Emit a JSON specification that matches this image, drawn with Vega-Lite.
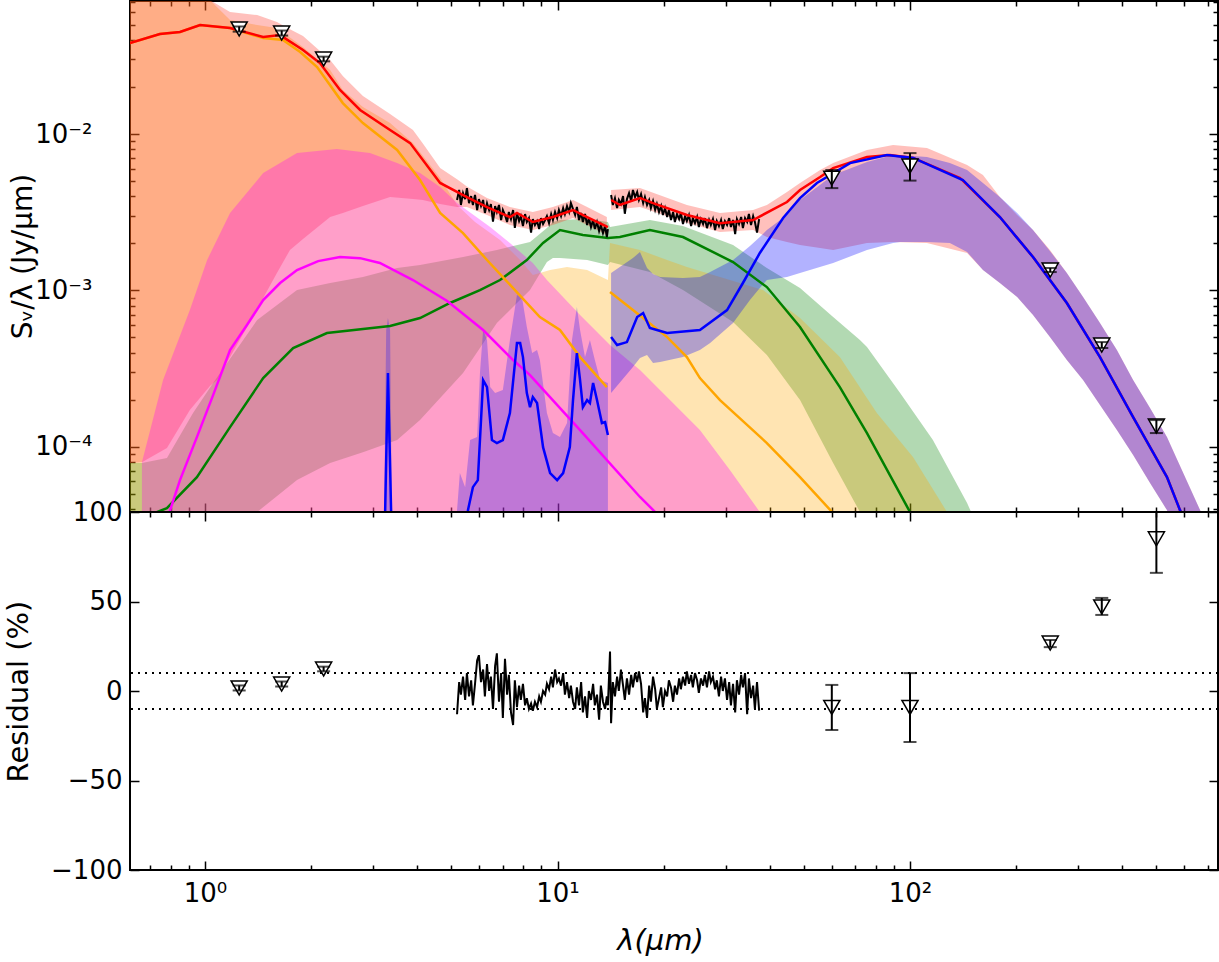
{
"$schema": "https://vega.github.io/schema/vega-lite/v6.json",
"autosize": {"type": "none"},
"padding": {"left": 130, "top": 1, "right": 1089, "bottom": 961},
"background": "white",
"spacing": 0,
"bounds": "flush",
"config": {
 "view": {"stroke": "black", "strokeWidth": 2},
 "axis": {"grid": false, "domain": false, "tickColor": "black", "tickWidth": 1.5, "labelFont": "DejaVu Sans", "labelFontSize": 26, "labelColor": "black", "titleFont": "DejaVu Sans", "titleFontSize": 29, "titleFontWeight": "normal", "titleColor": "black", "labelOverlap": false, "labelFlush": false}
},
"datasets": {
 "green_band": [
  {"log_lam":-0.213,"log_flux":-4.105,"lo":-5},{"log_lam":-0.179,"log_flux":-4.105,"lo":-5},{"log_lam":-0.108,"log_flux":-4.073,"lo":-5},{"log_lam":-0.034,"log_flux":-3.785,"lo":-5},{"log_lam":0.023,"log_flux":-3.593,"lo":-5},{"log_lam":0.148,"log_flux":-3.19,"lo":-4.418},{"log_lam":0.261,"log_flux":-2.998,"lo":-4.214},{"log_lam":0.355,"log_flux":-2.953,"lo":-4.105},{"log_lam":0.448,"log_flux":-2.915,"lo":-4.035},{"log_lam":0.545,"log_flux":-2.857,"lo":-3.958},{"log_lam":0.61,"log_flux":-2.838,"lo":-3.83},{"log_lam":0.732,"log_flux":-2.787,"lo":-3.529},{"log_lam":0.828,"log_flux":-2.742,"lo":-3.209},{"log_lam":0.922,"log_flux":-2.691,"lo":-2.998},{"log_lam":0.97,"log_flux":-2.601,"lo":-2.819},{"log_lam":0.987,"log_flux":-2.563,"lo":-2.793},{"log_lam":1.007,"log_flux":-2.55,"lo":-2.793},{"log_lam":1.084,"log_flux":-2.544,"lo":-2.806},{"log_lam":1.143,"log_flux":-2.563,"lo":-2.838},{"log_lam":1.149,"log_flux":-2.595,"lo":-2.819},{"log_lam":1.262,"log_flux":-2.55,"lo":-2.883},{"log_lam":1.356,"log_flux":-2.589,"lo":-2.998},{"log_lam":1.498,"log_flux":-2.71,"lo":-3.203},{"log_lam":1.594,"log_flux":-2.857,"lo":-3.414},{"log_lam":1.688,"log_flux":-2.985,"lo":-3.702},{"log_lam":1.782,"log_flux":-3.171,"lo":-4.105},{"log_lam":1.858,"log_flux":-3.318,"lo":-4.418},{"log_lam":1.878,"log_flux":-3.363,"lo":-4.534},{"log_lam":1.972,"log_flux":-3.657,"lo":-5},{"log_lam":2.065,"log_flux":-3.958,"lo":-5},{"log_lam":2.162,"log_flux":-4.361,"lo":-5},{"log_lam":2.176,"log_flux":-4.431,"lo":-5}
 ],
 "orange_band": [
  {"log_lam":-0.213,"log_flux":-0.823},{"log_lam":0.014,"log_flux":-1.143},{"log_lam":0.071,"log_flux":-1.271},{"log_lam":0.148,"log_flux":-1.303},{"log_lam":0.204,"log_flux":-1.322},{"log_lam":0.278,"log_flux":-1.443},{"log_lam":0.355,"log_flux":-1.591},{"log_lam":0.391,"log_flux":-1.718},{"log_lam":0.448,"log_flux":-1.827},{"log_lam":0.525,"log_flux":-1.93},{"log_lam":0.59,"log_flux":-2.058},{"log_lam":0.667,"log_flux":-2.282},{"log_lam":0.715,"log_flux":-2.454},{"log_lam":0.766,"log_flux":-2.563},{"log_lam":0.837,"log_flux":-2.678},{"log_lam":0.894,"log_flux":-2.806},{"log_lam":0.93,"log_flux":-2.902},{"log_lam":0.979,"log_flux":-2.87},{"log_lam":1.027,"log_flux":-2.851},{"log_lam":1.084,"log_flux":-2.87},{"log_lam":1.143,"log_flux":-2.934},{"log_lam":1.149,"log_flux":-2.697},{"log_lam":1.234,"log_flux":-2.742},{"log_lam":1.311,"log_flux":-2.806},{"log_lam":1.367,"log_flux":-2.851},{"log_lam":1.461,"log_flux":-2.915},{"log_lam":1.583,"log_flux":-2.998},{"log_lam":1.688,"log_flux":-3.177},{"log_lam":1.801,"log_flux":-3.427},{"log_lam":1.906,"log_flux":-3.785},{"log_lam":2.009,"log_flux":-4.067},{"log_lam":2.105,"log_flux":-4.418},{"log_lam":2.113,"log_flux":-4.47}
 ],
 "red_band": [
  {"seg":"a","log_lam":-0.213,"log_flux":-0.823,"lo":-4.105},{"seg":"a","log_lam":-0.179,"log_flux":-0.874,"lo":-4.099},{"seg":"a","log_lam":-0.108,"log_flux":-0.97,"lo":-4.009},{"seg":"a","log_lam":-0.043,"log_flux":-1.085,"lo":-3.766},{"seg":"a","log_lam":0.014,"log_flux":-1.143,"lo":-3.612},{"seg":"a","log_lam":0.034,"log_flux":-1.17,"lo":-3.574},{"seg":"a","log_lam":0.071,"log_flux":-1.22,"lo":-3.427},{"seg":"a","log_lam":0.148,"log_flux":-1.239,"lo":-3.12},{"seg":"a","log_lam":0.204,"log_flux":-1.284,"lo":-2.889},{"seg":"a","log_lam":0.241,"log_flux":-1.33,"lo":-2.742},{"seg":"a","log_lam":0.278,"log_flux":-1.373,"lo":-2.672},{"seg":"a","log_lam":0.355,"log_flux":-1.527,"lo":-2.531},{"seg":"a","log_lam":0.391,"log_flux":-1.629,"lo":-2.505},{"seg":"a","log_lam":0.448,"log_flux":-1.757,"lo":-2.461},{"seg":"a","log_lam":0.525,"log_flux":-1.872,"lo":-2.403},{"seg":"a","log_lam":0.59,"log_flux":-1.974,"lo":-2.416},{"seg":"a","log_lam":0.618,"log_flux":-2.06,"lo":-2.422},{"seg":"a","log_lam":0.667,"log_flux":-2.217,"lo":-2.448},{"seg":"a","log_lam":0.715,"log_flux":-2.29,"lo":-2.467},{"seg":"a","log_lam":0.743,"log_flux":-2.335,"lo":-2.467},{"seg":"a","log_lam":0.8,"log_flux":-2.409,"lo":-2.518},{"seg":"a","log_lam":0.865,"log_flux":-2.467,"lo":-2.582},{"seg":"a","log_lam":0.93,"log_flux":-2.499,"lo":-2.614},{"seg":"a","log_lam":0.987,"log_flux":-2.467,"lo":-2.582},{"seg":"a","log_lam":1.044,"log_flux":-2.422,"lo":-2.537},{"seg":"a","log_lam":1.084,"log_flux":-2.467,"lo":-2.582},{"seg":"a","log_lam":1.14,"log_flux":-2.531,"lo":-2.646},
  {"seg":"b","log_lam":1.152,"log_flux":-2.358,"lo":-2.486},{"seg":"b","log_lam":1.234,"log_flux":-2.345,"lo":-2.467},{"seg":"b","log_lam":1.367,"log_flux":-2.454,"lo":-2.569},{"seg":"b","log_lam":1.461,"log_flux":-2.505,"lo":-2.627},{"seg":"b","log_lam":1.555,"log_flux":-2.486,"lo":-2.614},{"seg":"b","log_lam":1.594,"log_flux":-2.454,"lo":-2.659},{"seg":"b","log_lam":1.651,"log_flux":-2.371,"lo":-2.691},{"seg":"b","log_lam":1.688,"log_flux":-2.313,"lo":-2.71},{"seg":"b","log_lam":1.745,"log_flux":-2.23,"lo":-2.729},{"seg":"b","log_lam":1.782,"log_flux":-2.186,"lo":-2.742},{"seg":"b","log_lam":1.878,"log_flux":-2.102,"lo":-2.697},{"seg":"b","log_lam":1.952,"log_flux":-2.07,"lo":-2.691},{"seg":"b","log_lam":2.048,"log_flux":-2.09,"lo":-2.697},{"seg":"b","log_lam":2.162,"log_flux":-2.198,"lo":-2.761},{"seg":"b","log_lam":2.207,"log_flux":-2.262,"lo":-2.87},{"seg":"b","log_lam":2.255,"log_flux":-2.403,"lo":-2.953},{"seg":"b","log_lam":2.304,"log_flux":-2.518,"lo":-3.043},{"seg":"b","log_lam":2.349,"log_flux":-2.614,"lo":-3.158},{"seg":"b","log_lam":2.397,"log_flux":-2.742,"lo":-3.299},{"seg":"b","log_lam":2.445,"log_flux":-2.889,"lo":-3.446},{"seg":"b","log_lam":2.491,"log_flux":-3.043,"lo":-3.574},{"seg":"b","log_lam":2.539,"log_flux":-3.209,"lo":-3.734},{"seg":"b","log_lam":2.587,"log_flux":-3.382,"lo":-3.894},{"seg":"b","log_lam":2.633,"log_flux":-3.574,"lo":-4.054},{"seg":"b","log_lam":2.681,"log_flux":-3.753,"lo":-4.233},{"seg":"b","log_lam":2.729,"log_flux":-3.939,"lo":-4.406},{"seg":"b","log_lam":2.752,"log_flux":-4.054,"lo":-4.534},{"seg":"b","log_lam":2.823,"log_flux":-4.406,"lo":-4.981},{"seg":"b","log_lam":2.837,"log_flux":-4.47,"lo":-5.045}
 ],
 "magenta_band": [
  {"log_lam":-0.179,"log_flux":-4.099},{"log_lam":-0.119,"log_flux":-3.574},{"log_lam":-0.043,"log_flux":-3.126},{"log_lam":0.006,"log_flux":-2.806},{"log_lam":0.071,"log_flux":-2.505},{"log_lam":0.165,"log_flux":-2.25},{"log_lam":0.261,"log_flux":-2.122},{"log_lam":0.374,"log_flux":-2.096},{"log_lam":0.468,"log_flux":-2.122},{"log_lam":0.545,"log_flux":-2.186},{"log_lam":0.61,"log_flux":-2.25},{"log_lam":0.667,"log_flux":-2.339},{"log_lam":0.715,"log_flux":-2.441},{"log_lam":0.809,"log_flux":-2.595},{"log_lam":0.865,"log_flux":-2.697},{"log_lam":0.93,"log_flux":-2.825},{"log_lam":0.97,"log_flux":-2.934},{"log_lam":1.064,"log_flux":-3.158},{"log_lam":1.149,"log_flux":-3.35},{"log_lam":1.234,"log_flux":-3.51},{"log_lam":1.404,"log_flux":-3.894},{"log_lam":1.489,"log_flux":-4.15},{"log_lam":1.574,"log_flux":-4.418},{"log_lam":1.589,"log_flux":-4.47}
 ],
 "pah_band": [
  {"log_lam":0.505,"log_flux":-5},{"log_lam":0.514,"log_flux":-3.254},{"log_lam":0.519,"log_flux":-3.177},{"log_lam":0.525,"log_flux":-3.254},{"log_lam":0.533,"log_flux":-5},{"log_lam":0.706,"log_flux":-5},{"log_lam":0.715,"log_flux":-4.406},{"log_lam":0.723,"log_flux":-4.169},{"log_lam":0.738,"log_flux":-4.259},{"log_lam":0.752,"log_flux":-3.958},{"log_lam":0.772,"log_flux":-3.939},{"log_lam":0.78,"log_flux":-3.529},{"log_lam":0.789,"log_flux":-3.254},{"log_lam":0.8,"log_flux":-3.318},{"log_lam":0.809,"log_flux":-3.619},{"log_lam":0.823,"log_flux":-3.657},{"log_lam":0.845,"log_flux":-3.638},{"log_lam":0.865,"log_flux":-3.318},{"log_lam":0.885,"log_flux":-3.03},{"log_lam":0.899,"log_flux":-3.043},{"log_lam":0.913,"log_flux":-3.235},{"log_lam":0.928,"log_flux":-3.401},{"log_lam":0.942,"log_flux":-3.382},{"log_lam":0.95,"log_flux":-3.446},{"log_lam":0.97,"log_flux":-3.785},{"log_lam":0.987,"log_flux":-3.913},{"log_lam":1.007,"log_flux":-3.939},{"log_lam":1.027,"log_flux":-3.849},{"log_lam":1.041,"log_flux":-3.318},{"log_lam":1.055,"log_flux":-3.107},{"log_lam":1.064,"log_flux":-3.254},{"log_lam":1.078,"log_flux":-3.427},{"log_lam":1.092,"log_flux":-3.318},{"log_lam":1.106,"log_flux":-3.446},{"log_lam":1.121,"log_flux":-3.574},{"log_lam":1.143,"log_flux":-3.593}
 ],
 "cold_band": [
  {"log_lam":1.152,"log_flux":-2.889,"lo":-3.657},{"log_lam":1.214,"log_flux":-2.793,"lo":-3.491},{"log_lam":1.234,"log_flux":-2.755,"lo":-3.433},{"log_lam":1.254,"log_flux":-2.857,"lo":-3.414},{"log_lam":1.271,"log_flux":-2.896,"lo":-3.465},{"log_lam":1.291,"log_flux":-2.915,"lo":-3.459},{"log_lam":1.356,"log_flux":-2.921,"lo":-3.427},{"log_lam":1.404,"log_flux":-2.915,"lo":-3.382},{"log_lam":1.433,"log_flux":-2.883,"lo":-3.337},{"log_lam":1.498,"log_flux":-2.806,"lo":-3.209},{"log_lam":1.546,"log_flux":-2.717,"lo":-3.062},{"log_lam":1.574,"log_flux":-2.659,"lo":-2.985},{"log_lam":1.594,"log_flux":-2.614,"lo":-2.934},{"log_lam":1.651,"log_flux":-2.518,"lo":-2.915},{"log_lam":1.688,"log_flux":-2.422,"lo":-2.889},{"log_lam":1.782,"log_flux":-2.262,"lo":-2.825},{"log_lam":1.878,"log_flux":-2.179,"lo":-2.742},{"log_lam":1.952,"log_flux":-2.134,"lo":-2.697},{"log_lam":1.972,"log_flux":-2.134,"lo":-2.691},{"log_lam":2.048,"log_flux":-2.147,"lo":-2.691},{"log_lam":2.113,"log_flux":-2.186,"lo":-2.697},{"log_lam":2.162,"log_flux":-2.23,"lo":-2.755},{"log_lam":2.207,"log_flux":-2.313,"lo":-2.87},{"log_lam":2.255,"log_flux":-2.403,"lo":-2.953},{"log_lam":2.304,"log_flux":-2.505,"lo":-3.043},{"log_lam":2.349,"log_flux":-2.614,"lo":-3.158},{"log_lam":2.397,"log_flux":-2.748,"lo":-3.299},{"log_lam":2.445,"log_flux":-2.889,"lo":-3.446},{"log_lam":2.491,"log_flux":-3.043,"lo":-3.574},{"log_lam":2.539,"log_flux":-3.209,"lo":-3.734},{"log_lam":2.587,"log_flux":-3.382,"lo":-3.894},{"log_lam":2.633,"log_flux":-3.574,"lo":-4.054},{"log_lam":2.681,"log_flux":-3.753,"lo":-4.233},{"log_lam":2.729,"log_flux":-3.939,"lo":-4.406},{"log_lam":2.752,"log_flux":-4.054,"lo":-4.534},{"log_lam":2.823,"log_flux":-4.406,"lo":-4.981},{"log_lam":2.837,"log_flux":-4.47,"lo":-5.045}
 ],
 "green_line": [
  {"log_lam":-0.184,"log_flux":-4.534},{"log_lam":-0.136,"log_flux":-4.418},{"log_lam":-0.108,"log_flux":-4.393},{"log_lam":-0.023,"log_flux":-4.195},{"log_lam":0.071,"log_flux":-3.875},{"log_lam":0.165,"log_flux":-3.561},{"log_lam":0.25,"log_flux":-3.369},{"log_lam":0.346,"log_flux":-3.273},{"log_lam":0.525,"log_flux":-3.228},{"log_lam":0.61,"log_flux":-3.177},{"log_lam":0.695,"log_flux":-3.081},{"log_lam":0.78,"log_flux":-2.998},{"log_lam":0.837,"log_flux":-2.934},{"log_lam":0.913,"log_flux":-2.806},{"log_lam":0.959,"log_flux":-2.697},{"log_lam":1.007,"log_flux":-2.614},{"log_lam":1.072,"log_flux":-2.646},{"log_lam":1.143,"log_flux":-2.665},{"log_lam":1.177,"log_flux":-2.659},{"log_lam":1.262,"log_flux":-2.614},{"log_lam":1.356,"log_flux":-2.659},{"log_lam":1.498,"log_flux":-2.819},{"log_lam":1.594,"log_flux":-2.979},{"log_lam":1.688,"log_flux":-3.235},{"log_lam":1.801,"log_flux":-3.619},{"log_lam":1.878,"log_flux":-3.913},{"log_lam":2.0,"log_flux":-4.418},{"log_lam":2.014,"log_flux":-4.47}
 ],
 "magenta_line": [
  {"log_lam":-0.113,"log_flux":-4.598},{"log_lam":-0.099,"log_flux":-4.406},{"log_lam":-0.071,"log_flux":-4.214},{"log_lam":-0.023,"log_flux":-3.939},{"log_lam":0.023,"log_flux":-3.67},{"log_lam":0.071,"log_flux":-3.382},{"log_lam":0.119,"log_flux":-3.222},{"log_lam":0.165,"log_flux":-3.062},{"log_lam":0.213,"log_flux":-2.953},{"log_lam":0.261,"log_flux":-2.87},{"log_lam":0.321,"log_flux":-2.813},{"log_lam":0.383,"log_flux":-2.787},{"log_lam":0.44,"log_flux":-2.794},{"log_lam":0.496,"log_flux":-2.825},{"log_lam":0.59,"log_flux":-2.934},{"log_lam":0.687,"log_flux":-3.068},{"log_lam":0.789,"log_flux":-3.254},{"log_lam":0.874,"log_flux":-3.446},{"log_lam":0.922,"log_flux":-3.542},{"log_lam":1.064,"log_flux":-3.894},{"log_lam":1.234,"log_flux":-4.322},{"log_lam":1.277,"log_flux":-4.418},{"log_lam":1.291,"log_flux":-4.47}
 ],
 "orange_line": [
  {"seg":"a","log_lam":-0.213,"log_flux":-1.418},{"seg":"a","log_lam":-0.128,"log_flux":-1.36},{"seg":"a","log_lam":-0.071,"log_flux":-1.347},{"seg":"a","log_lam":-0.014,"log_flux":-1.303},{"seg":"a","log_lam":0.071,"log_flux":-1.322},{"seg":"a","log_lam":0.165,"log_flux":-1.386},{"seg":"a","log_lam":0.221,"log_flux":-1.399},{"seg":"a","log_lam":0.27,"log_flux":-1.475},{"seg":"a","log_lam":0.318,"log_flux":-1.571},{"seg":"a","log_lam":0.391,"log_flux":-1.802},{"seg":"a","log_lam":0.448,"log_flux":-1.93},{"seg":"a","log_lam":0.545,"log_flux":-2.102},{"seg":"a","log_lam":0.61,"log_flux":-2.294},{"seg":"a","log_lam":0.667,"log_flux":-2.505},{"seg":"a","log_lam":0.732,"log_flux":-2.634},{"seg":"a","log_lam":0.8,"log_flux":-2.806},{"seg":"a","log_lam":0.845,"log_flux":-2.915},{"seg":"a","log_lam":0.95,"log_flux":-3.171},{"seg":"a","log_lam":1.007,"log_flux":-3.254},{"seg":"a","log_lam":1.064,"log_flux":-3.427},{"seg":"a","log_lam":1.14,"log_flux":-3.619},
  {"seg":"b","log_lam":1.149,"log_flux":-3.011},{"seg":"b","log_lam":1.214,"log_flux":-3.126},{"seg":"b","log_lam":1.311,"log_flux":-3.299},{"seg":"b","log_lam":1.367,"log_flux":-3.427},{"seg":"b","log_lam":1.404,"log_flux":-3.561},{"seg":"b","log_lam":1.461,"log_flux":-3.702},{"seg":"b","log_lam":1.594,"log_flux":-3.977},{"seg":"b","log_lam":1.688,"log_flux":-4.195},{"seg":"b","log_lam":1.779,"log_flux":-4.418},{"seg":"b","log_lam":1.801,"log_flux":-4.47}
 ],
 "red_line": [
  {"seg":"a","log_lam":-0.213,"log_flux":-1.418},{"seg":"a","log_lam":-0.128,"log_flux":-1.36},{"seg":"a","log_lam":-0.071,"log_flux":-1.347},{"seg":"a","log_lam":-0.014,"log_flux":-1.303},{"seg":"a","log_lam":0.071,"log_flux":-1.322},{"seg":"a","log_lam":0.165,"log_flux":-1.379},{"seg":"a","log_lam":0.213,"log_flux":-1.367},{"seg":"a","log_lam":0.278,"log_flux":-1.462},{"seg":"a","log_lam":0.326,"log_flux":-1.546},{"seg":"a","log_lam":0.383,"log_flux":-1.718},{"seg":"a","log_lam":0.44,"log_flux":-1.846},{"seg":"a","log_lam":0.525,"log_flux":-1.974},{"seg":"a","log_lam":0.582,"log_flux":-2.058},{"seg":"a","log_lam":0.667,"log_flux":-2.313},{"seg":"a","log_lam":0.743,"log_flux":-2.403},{"seg":"a","log_lam":0.8,"log_flux":-2.467},{"seg":"a","log_lam":0.865,"log_flux":-2.531},{"seg":"a","log_lam":0.885,"log_flux":-2.505},{"seg":"a","log_lam":0.93,"log_flux":-2.563},{"seg":"a","log_lam":0.987,"log_flux":-2.531},{"seg":"a","log_lam":1.044,"log_flux":-2.486},{"seg":"a","log_lam":1.084,"log_flux":-2.531},{"seg":"a","log_lam":1.143,"log_flux":-2.595},
  {"seg":"b","log_lam":1.152,"log_flux":-2.422},{"seg":"b","log_lam":1.177,"log_flux":-2.454},{"seg":"b","log_lam":1.234,"log_flux":-2.409},{"seg":"b","log_lam":1.271,"log_flux":-2.442},{"seg":"b","log_lam":1.367,"log_flux":-2.518},{"seg":"b","log_lam":1.461,"log_flux":-2.57},{"seg":"b","log_lam":1.555,"log_flux":-2.55},{"seg":"b","log_lam":1.651,"log_flux":-2.435},{"seg":"b","log_lam":1.688,"log_flux":-2.358},{"seg":"b","log_lam":1.745,"log_flux":-2.275},{"seg":"b","log_lam":1.782,"log_flux":-2.218},{"seg":"b","log_lam":1.878,"log_flux":-2.147},{"seg":"b","log_lam":1.943,"log_flux":-2.134},{"seg":"b","log_lam":2.009,"log_flux":-2.153},{"seg":"b","log_lam":2.142,"log_flux":-2.281},{"seg":"b","log_lam":2.255,"log_flux":-2.531},{"seg":"b","log_lam":2.349,"log_flux":-2.787},{"seg":"b","log_lam":2.445,"log_flux":-3.081},{"seg":"b","log_lam":2.539,"log_flux":-3.427},{"seg":"b","log_lam":2.633,"log_flux":-3.811},{"seg":"b","log_lam":2.729,"log_flux":-4.195},{"seg":"b","log_lam":2.766,"log_flux":-4.406},{"seg":"b","log_lam":2.794,"log_flux":-4.534}
 ],
 "blue_line": [
  {"seg":"a","log_lam":0.505,"log_flux":-4.726},{"seg":"a","log_lam":0.511,"log_flux":-4.418},{"seg":"a","log_lam":0.519,"log_flux":-3.529},{"seg":"a","log_lam":0.528,"log_flux":-4.418},{"seg":"a","log_lam":0.533,"log_flux":-4.726},{"seg":"a","log_lam":0.738,"log_flux":-4.726},{"seg":"a","log_lam":0.746,"log_flux":-4.406},{"seg":"a","log_lam":0.76,"log_flux":-4.259},{"seg":"a","log_lam":0.774,"log_flux":-4.214},{"seg":"a","log_lam":0.789,"log_flux":-3.574},{"seg":"a","log_lam":0.8,"log_flux":-3.619},{"seg":"a","log_lam":0.814,"log_flux":-3.958},{"seg":"a","log_lam":0.828,"log_flux":-3.977},{"seg":"a","log_lam":0.845,"log_flux":-3.958},{"seg":"a","log_lam":0.865,"log_flux":-3.785},{"seg":"a","log_lam":0.885,"log_flux":-3.337},{"seg":"a","log_lam":0.894,"log_flux":-3.337},{"seg":"a","log_lam":0.902,"log_flux":-3.427},{"seg":"a","log_lam":0.913,"log_flux":-3.657},{"seg":"a","log_lam":0.922,"log_flux":-3.747},{"seg":"a","log_lam":0.93,"log_flux":-3.683},{"seg":"a","log_lam":0.942,"log_flux":-3.721},{"seg":"a","log_lam":0.959,"log_flux":-4.003},{"seg":"a","log_lam":0.979,"log_flux":-4.169},{"seg":"a","log_lam":0.999,"log_flux":-4.214},{"seg":"a","log_lam":1.016,"log_flux":-4.169},{"seg":"a","log_lam":1.035,"log_flux":-4.003},{"seg":"a","log_lam":1.044,"log_flux":-3.702},{"seg":"a","log_lam":1.055,"log_flux":-3.401},{"seg":"a","log_lam":1.064,"log_flux":-3.574},{"seg":"a","log_lam":1.072,"log_flux":-3.747},{"seg":"a","log_lam":1.084,"log_flux":-3.702},{"seg":"a","log_lam":1.092,"log_flux":-3.721},{"seg":"a","log_lam":1.101,"log_flux":-3.593},{"seg":"a","log_lam":1.112,"log_flux":-3.702},{"seg":"a","log_lam":1.126,"log_flux":-3.849},{"seg":"a","log_lam":1.135,"log_flux":-3.843},{"seg":"a","log_lam":1.143,"log_flux":-3.926},
  {"seg":"b","log_lam":1.152,"log_flux":-3.299},{"seg":"b","log_lam":1.169,"log_flux":-3.35},{"seg":"b","log_lam":1.197,"log_flux":-3.331},{"seg":"b","log_lam":1.226,"log_flux":-3.171},{"seg":"b","log_lam":1.243,"log_flux":-3.145},{"seg":"b","log_lam":1.262,"log_flux":-3.241},{"seg":"b","log_lam":1.282,"log_flux":-3.254},{"seg":"b","log_lam":1.311,"log_flux":-3.273},{"seg":"b","log_lam":1.404,"log_flux":-3.254},{"seg":"b","log_lam":1.481,"log_flux":-3.126},{"seg":"b","log_lam":1.526,"log_flux":-2.953},{"seg":"b","log_lam":1.574,"log_flux":-2.761},{"seg":"b","log_lam":1.64,"log_flux":-2.537},{"seg":"b","log_lam":1.688,"log_flux":-2.41},{"seg":"b","log_lam":1.736,"log_flux":-2.313},{"seg":"b","log_lam":1.83,"log_flux":-2.186},{"seg":"b","log_lam":1.935,"log_flux":-2.134},{"seg":"b","log_lam":2.009,"log_flux":-2.153},{"seg":"b","log_lam":2.15,"log_flux":-2.294},{"seg":"b","log_lam":2.255,"log_flux":-2.531},{"seg":"b","log_lam":2.349,"log_flux":-2.787},{"seg":"b","log_lam":2.445,"log_flux":-3.081},{"seg":"b","log_lam":2.539,"log_flux":-3.427},{"seg":"b","log_lam":2.633,"log_flux":-3.811},{"seg":"b","log_lam":2.729,"log_flux":-4.195},{"seg":"b","log_lam":2.766,"log_flux":-4.406},{"seg":"b","log_lam":2.794,"log_flux":-4.534}
 ],
 "spectrum": [
  {"seg":"a","log_lam":0.715,"log_flux":-2.422},{"seg":"a","log_lam":0.721,"log_flux":-2.358},{"seg":"a","log_lam":0.726,"log_flux":-2.454},{"seg":"a","log_lam":0.732,"log_flux":-2.378},{"seg":"a","log_lam":0.738,"log_flux":-2.416},{"seg":"a","log_lam":0.743,"log_flux":-2.346},{"seg":"a","log_lam":0.749,"log_flux":-2.442},{"seg":"a","log_lam":0.755,"log_flux":-2.397},{"seg":"a","log_lam":0.76,"log_flux":-2.454},{"seg":"a","log_lam":0.766,"log_flux":-2.39},{"seg":"a","log_lam":0.772,"log_flux":-2.486},{"seg":"a","log_lam":0.777,"log_flux":-2.416},{"seg":"a","log_lam":0.783,"log_flux":-2.461},{"seg":"a","log_lam":0.789,"log_flux":-2.422},{"seg":"a","log_lam":0.794,"log_flux":-2.505},{"seg":"a","log_lam":0.8,"log_flux":-2.442},{"seg":"a","log_lam":0.806,"log_flux":-2.486},{"seg":"a","log_lam":0.811,"log_flux":-2.448},{"seg":"a","log_lam":0.817,"log_flux":-2.56},{"seg":"a","log_lam":0.823,"log_flux":-2.461},{"seg":"a","log_lam":0.828,"log_flux":-2.499},{"seg":"a","log_lam":0.834,"log_flux":-2.454},{"seg":"a","log_lam":0.84,"log_flux":-2.55},{"seg":"a","log_lam":0.845,"log_flux":-2.486},{"seg":"a","log_lam":0.851,"log_flux":-2.518},{"seg":"a","log_lam":0.857,"log_flux":-2.563},{"seg":"a","log_lam":0.862,"log_flux":-2.499},{"seg":"a","log_lam":0.868,"log_flux":-2.544},{"seg":"a","log_lam":0.874,"log_flux":-2.486},{"seg":"a","log_lam":0.879,"log_flux":-2.6},{"seg":"a","log_lam":0.885,"log_flux":-2.505},{"seg":"a","log_lam":0.891,"log_flux":-2.557},{"seg":"a","log_lam":0.896,"log_flux":-2.525},{"seg":"a","log_lam":0.902,"log_flux":-2.589},{"seg":"a","log_lam":0.908,"log_flux":-2.512},{"seg":"a","log_lam":0.913,"log_flux":-2.563},{"seg":"a","log_lam":0.919,"log_flux":-2.538},{"seg":"a","log_lam":0.925,"log_flux":-2.63},{"seg":"a","log_lam":0.93,"log_flux":-2.544},{"seg":"a","log_lam":0.936,"log_flux":-2.582},{"seg":"a","log_lam":0.942,"log_flux":-2.557},{"seg":"a","log_lam":0.948,"log_flux":-2.608},{"seg":"a","log_lam":0.953,"log_flux":-2.538},{"seg":"a","log_lam":0.959,"log_flux":-2.576},{"seg":"a","log_lam":0.965,"log_flux":-2.55},{"seg":"a","log_lam":0.97,"log_flux":-2.525},{"seg":"a","log_lam":0.976,"log_flux":-2.57},{"seg":"a","log_lam":0.982,"log_flux":-2.512},{"seg":"a","log_lam":0.987,"log_flux":-2.55},{"seg":"a","log_lam":0.993,"log_flux":-2.499},{"seg":"a","log_lam":0.999,"log_flux":-2.538},{"seg":"a","log_lam":1.004,"log_flux":-2.486},{"seg":"a","log_lam":1.01,"log_flux":-2.525},{"seg":"a","log_lam":1.016,"log_flux":-2.474},{"seg":"a","log_lam":1.021,"log_flux":-2.512},{"seg":"a","log_lam":1.027,"log_flux":-2.461},{"seg":"a","log_lam":1.033,"log_flux":-2.499},{"seg":"a","log_lam":1.038,"log_flux":-2.442},{"seg":"a","log_lam":1.044,"log_flux":-2.48},{"seg":"a","log_lam":1.05,"log_flux":-2.518},{"seg":"a","log_lam":1.055,"log_flux":-2.467},{"seg":"a","log_lam":1.061,"log_flux":-2.55},{"seg":"a","log_lam":1.067,"log_flux":-2.505},{"seg":"a","log_lam":1.072,"log_flux":-2.563},{"seg":"a","log_lam":1.078,"log_flux":-2.512},{"seg":"a","log_lam":1.084,"log_flux":-2.582},{"seg":"a","log_lam":1.089,"log_flux":-2.538},{"seg":"a","log_lam":1.095,"log_flux":-2.595},{"seg":"a","log_lam":1.101,"log_flux":-2.55},{"seg":"a","log_lam":1.106,"log_flux":-2.608},{"seg":"a","log_lam":1.112,"log_flux":-2.563},{"seg":"a","log_lam":1.118,"log_flux":-2.621},{"seg":"a","log_lam":1.123,"log_flux":-2.582},{"seg":"a","log_lam":1.129,"log_flux":-2.634},{"seg":"a","log_lam":1.135,"log_flux":-2.589},{"seg":"a","log_lam":1.14,"log_flux":-2.66},{"seg":"a","log_lam":1.143,"log_flux":-2.608},
  {"seg":"b","log_lam":1.152,"log_flux":-2.39},{"seg":"b","log_lam":1.157,"log_flux":-2.454},{"seg":"b","log_lam":1.163,"log_flux":-2.41},{"seg":"b","log_lam":1.169,"log_flux":-2.474},{"seg":"b","log_lam":1.174,"log_flux":-2.422},{"seg":"b","log_lam":1.18,"log_flux":-2.448},{"seg":"b","log_lam":1.186,"log_flux":-2.397},{"seg":"b","log_lam":1.191,"log_flux":-2.51},{"seg":"b","log_lam":1.197,"log_flux":-2.416},{"seg":"b","log_lam":1.203,"log_flux":-2.378},{"seg":"b","log_lam":1.209,"log_flux":-2.429},{"seg":"b","log_lam":1.214,"log_flux":-2.358},{"seg":"b","log_lam":1.22,"log_flux":-2.403},{"seg":"b","log_lam":1.226,"log_flux":-2.371},{"seg":"b","log_lam":1.231,"log_flux":-2.422},{"seg":"b","log_lam":1.237,"log_flux":-2.384},{"seg":"b","log_lam":1.243,"log_flux":-2.442},{"seg":"b","log_lam":1.248,"log_flux":-2.403},{"seg":"b","log_lam":1.254,"log_flux":-2.454},{"seg":"b","log_lam":1.26,"log_flux":-2.422},{"seg":"b","log_lam":1.265,"log_flux":-2.474},{"seg":"b","log_lam":1.271,"log_flux":-2.429},{"seg":"b","log_lam":1.277,"log_flux":-2.486},{"seg":"b","log_lam":1.282,"log_flux":-2.448},{"seg":"b","log_lam":1.288,"log_flux":-2.499},{"seg":"b","log_lam":1.294,"log_flux":-2.461},{"seg":"b","log_lam":1.299,"log_flux":-2.518},{"seg":"b","log_lam":1.305,"log_flux":-2.474},{"seg":"b","log_lam":1.311,"log_flux":-2.531},{"seg":"b","log_lam":1.316,"log_flux":-2.486},{"seg":"b","log_lam":1.322,"log_flux":-2.55},{"seg":"b","log_lam":1.328,"log_flux":-2.499},{"seg":"b","log_lam":1.333,"log_flux":-2.563},{"seg":"b","log_lam":1.339,"log_flux":-2.512},{"seg":"b","log_lam":1.345,"log_flux":-2.544},{"seg":"b","log_lam":1.35,"log_flux":-2.505},{"seg":"b","log_lam":1.356,"log_flux":-2.576},{"seg":"b","log_lam":1.362,"log_flux":-2.525},{"seg":"b","log_lam":1.367,"log_flux":-2.557},{"seg":"b","log_lam":1.373,"log_flux":-2.518},{"seg":"b","log_lam":1.379,"log_flux":-2.589},{"seg":"b","log_lam":1.384,"log_flux":-2.538},{"seg":"b","log_lam":1.39,"log_flux":-2.57},{"seg":"b","log_lam":1.396,"log_flux":-2.531},{"seg":"b","log_lam":1.401,"log_flux":-2.595},{"seg":"b","log_lam":1.407,"log_flux":-2.544},{"seg":"b","log_lam":1.413,"log_flux":-2.576},{"seg":"b","log_lam":1.418,"log_flux":-2.538},{"seg":"b","log_lam":1.424,"log_flux":-2.602},{"seg":"b","log_lam":1.43,"log_flux":-2.55},{"seg":"b","log_lam":1.435,"log_flux":-2.582},{"seg":"b","log_lam":1.441,"log_flux":-2.544},{"seg":"b","log_lam":1.447,"log_flux":-2.614},{"seg":"b","log_lam":1.452,"log_flux":-2.557},{"seg":"b","log_lam":1.458,"log_flux":-2.589},{"seg":"b","log_lam":1.464,"log_flux":-2.55},{"seg":"b","log_lam":1.469,"log_flux":-2.608},{"seg":"b","log_lam":1.475,"log_flux":-2.557},{"seg":"b","log_lam":1.481,"log_flux":-2.582},{"seg":"b","log_lam":1.487,"log_flux":-2.538},{"seg":"b","log_lam":1.492,"log_flux":-2.595},{"seg":"b","log_lam":1.498,"log_flux":-2.55},{"seg":"b","log_lam":1.504,"log_flux":-2.64},{"seg":"b","log_lam":1.509,"log_flux":-2.544},{"seg":"b","log_lam":1.515,"log_flux":-2.576},{"seg":"b","log_lam":1.521,"log_flux":-2.531},{"seg":"b","log_lam":1.526,"log_flux":-2.602},{"seg":"b","log_lam":1.532,"log_flux":-2.538},{"seg":"b","log_lam":1.538,"log_flux":-2.563},{"seg":"b","log_lam":1.543,"log_flux":-2.512},{"seg":"b","log_lam":1.549,"log_flux":-2.582},{"seg":"b","log_lam":1.555,"log_flux":-2.525},{"seg":"b","log_lam":1.56,"log_flux":-2.563},{"seg":"b","log_lam":1.566,"log_flux":-2.63},{"seg":"b","log_lam":1.572,"log_flux":-2.544}
 ],
 "residual": [
  {"log_lam":0.715,"res":-13},{"log_lam":0.721,"res":5},{"log_lam":0.726,"res":-2},{"log_lam":0.732,"res":8},{"log_lam":0.738,"res":-5},{"log_lam":0.743,"res":10},{"log_lam":0.749,"res":-3},{"log_lam":0.755,"res":6},{"log_lam":0.76,"res":-8},{"log_lam":0.766,"res":4},{"log_lam":0.772,"res":17},{"log_lam":0.777,"res":20},{"log_lam":0.783,"res":5},{"log_lam":0.789,"res":12},{"log_lam":0.794,"res":-3},{"log_lam":0.8,"res":15},{"log_lam":0.806,"res":0},{"log_lam":0.811,"res":8},{"log_lam":0.817,"res":-10},{"log_lam":0.823,"res":14},{"log_lam":0.828,"res":21},{"log_lam":0.834,"res":-6},{"log_lam":0.84,"res":10},{"log_lam":0.845,"res":-15},{"log_lam":0.851,"res":18},{"log_lam":0.857,"res":-2},{"log_lam":0.862,"res":9},{"log_lam":0.868,"res":-12},{"log_lam":0.874,"res":-19},{"log_lam":0.879,"res":6},{"log_lam":0.885,"res":-9},{"log_lam":0.891,"res":3},{"log_lam":0.896,"res":-5},{"log_lam":0.902,"res":4},{"log_lam":0.908,"res":-8},{"log_lam":0.913,"res":-4},{"log_lam":0.919,"res":-10},{"log_lam":0.925,"res":-7},{"log_lam":0.93,"res":-11},{"log_lam":0.936,"res":-6},{"log_lam":0.942,"res":-9},{"log_lam":0.948,"res":-3},{"log_lam":0.953,"res":-6},{"log_lam":0.959,"res":0},{"log_lam":0.965,"res":-2},{"log_lam":0.97,"res":4},{"log_lam":0.976,"res":1},{"log_lam":0.982,"res":8},{"log_lam":0.987,"res":2},{"log_lam":0.993,"res":12},{"log_lam":0.999,"res":5},{"log_lam":1.004,"res":7},{"log_lam":1.01,"res":3},{"log_lam":1.016,"res":10},{"log_lam":1.021,"res":-2},{"log_lam":1.027,"res":5},{"log_lam":1.033,"res":-4},{"log_lam":1.038,"res":3},{"log_lam":1.044,"res":-6},{"log_lam":1.05,"res":-10},{"log_lam":1.055,"res":2},{"log_lam":1.061,"res":-8},{"log_lam":1.067,"res":5},{"log_lam":1.072,"res":-12},{"log_lam":1.078,"res":-3},{"log_lam":1.084,"res":-15},{"log_lam":1.089,"res":0},{"log_lam":1.095,"res":-5},{"log_lam":1.101,"res":4},{"log_lam":1.106,"res":-8},{"log_lam":1.112,"res":-2},{"log_lam":1.118,"res":-16},{"log_lam":1.123,"res":3},{"log_lam":1.129,"res":-6},{"log_lam":1.135,"res":-10},{"log_lam":1.14,"res":-3},{"log_lam":1.143,"res":-8},{"log_lam":1.149,"res":22},{"log_lam":1.152,"res":-18},{"log_lam":1.157,"res":5},{"log_lam":1.163,"res":-3},{"log_lam":1.169,"res":8},{"log_lam":1.174,"res":0},{"log_lam":1.18,"res":12},{"log_lam":1.186,"res":3},{"log_lam":1.191,"res":-5},{"log_lam":1.197,"res":7},{"log_lam":1.203,"res":-2},{"log_lam":1.209,"res":9},{"log_lam":1.214,"res":2},{"log_lam":1.22,"res":10},{"log_lam":1.226,"res":5},{"log_lam":1.231,"res":11},{"log_lam":1.237,"res":4},{"log_lam":1.243,"res":-12},{"log_lam":1.248,"res":-4},{"log_lam":1.254,"res":-15},{"log_lam":1.26,"res":3},{"log_lam":1.265,"res":-6},{"log_lam":1.271,"res":8},{"log_lam":1.277,"res":1},{"log_lam":1.282,"res":-10},{"log_lam":1.288,"res":-4},{"log_lam":1.294,"res":2},{"log_lam":1.299,"res":-9},{"log_lam":1.305,"res":0},{"log_lam":1.311,"res":-3},{"log_lam":1.316,"res":6},{"log_lam":1.322,"res":2},{"log_lam":1.328,"res":-6},{"log_lam":1.333,"res":3},{"log_lam":1.339,"res":-2},{"log_lam":1.345,"res":7},{"log_lam":1.35,"res":1},{"log_lam":1.356,"res":8},{"log_lam":1.362,"res":3},{"log_lam":1.367,"res":11},{"log_lam":1.373,"res":4},{"log_lam":1.379,"res":9},{"log_lam":1.384,"res":2},{"log_lam":1.39,"res":10},{"log_lam":1.396,"res":6},{"log_lam":1.401,"res":-1},{"log_lam":1.407,"res":7},{"log_lam":1.413,"res":3},{"log_lam":1.418,"res":9},{"log_lam":1.424,"res":2},{"log_lam":1.43,"res":11},{"log_lam":1.435,"res":5},{"log_lam":1.441,"res":8},{"log_lam":1.447,"res":1},{"log_lam":1.452,"res":6},{"log_lam":1.458,"res":-3},{"log_lam":1.464,"res":8},{"log_lam":1.469,"res":0},{"log_lam":1.475,"res":7},{"log_lam":1.481,"res":-5},{"log_lam":1.487,"res":5},{"log_lam":1.492,"res":-8},{"log_lam":1.498,"res":4},{"log_lam":1.504,"res":-12},{"log_lam":1.509,"res":6},{"log_lam":1.515,"res":-2},{"log_lam":1.521,"res":9},{"log_lam":1.526,"res":2},{"log_lam":1.532,"res":10},{"log_lam":1.538,"res":-13},{"log_lam":1.543,"res":7},{"log_lam":1.549,"res":-4},{"log_lam":1.555,"res":3},{"log_lam":1.56,"res":-10},{"log_lam":1.566,"res":5},{"log_lam":1.572,"res":-11}
 ],
 "phot": [
  {"band":"J","log_lam":0.0969,"log_flux":-1.328,"flux_lo":-1.345,"flux_hi":-1.312,"res":1.7,"res_lo":0.3,"res_hi":3.1},
  {"band":"H","log_lam":0.2175,"log_flux":-1.354,"flux_lo":-1.37,"flux_hi":-1.338,"res":3.9,"res_lo":2.5,"res_hi":5.3},
  {"band":"K","log_lam":0.3365,"log_flux":-1.52,"flux_lo":-1.535,"flux_hi":-1.505,"res":12.3,"res_lo":11,"res_hi":13.6},
  {"band":"60um","log_lam":1.7782,"log_flux":-2.282,"flux_lo":-2.346,"flux_hi":-2.23,"res":-9.2,"res_lo":-21.8,"res_hi":3.4},
  {"band":"100um","log_lam":2.0,"log_flux":-2.205,"flux_lo":-2.298,"flux_hi":-2.122,"res":-9.2,"res_lo":-28.5,"res_hi":10},
  {"band":"250um","log_lam":2.3979,"log_flux":-2.87,"flux_lo":-2.883,"flux_hi":-2.857,"res":26.8,"res_lo":24.5,"res_hi":28.5},
  {"band":"350um","log_lam":2.5441,"log_flux":-3.35,"flux_lo":-3.369,"flux_hi":-3.331,"res":47,"res_lo":42.5,"res_hi":52},
  {"band":"500um","log_lam":2.699,"log_flux":-3.868,"flux_lo":-3.913,"flux_hi":-3.83,"res":85,"res_lo":66,"res_hi":105}
 ],
 "levels": [{"res": 10}, {"res": -10}]
},
"vconcat": [
 {
  "width": 1088, "height": 511,
  "encoding": {
   "x": {"field": "log_lam", "type": "quantitative", "scale": {"domain": [-0.2128, 2.8738], "nice": false, "zero": false}, "axis": null},
   "y": {"field": "log_flux", "type": "quantitative", "scale": {"domain": [-4.418, -1.149], "nice": false, "zero": false}, "axis": null}
  },
  "layer": [
   {"data": {"name": "green_band"}, "mark": {"type": "area", "color": "#008000", "opacity": 0.3, "clip": true},
    "encoding": {
     "x": {"field": "log_lam", "type": "quantitative", "scale": {"domain": [-0.2128, 2.8738], "nice": false, "zero": false}, "axis": {"orient": "bottom", "values": [0, 1, 2], "labels": false, "tickSize": -9, "title": null}},
     "y": {"field": "log_flux", "type": "quantitative", "scale": {"domain": [-4.418, -1.149], "nice": false, "zero": false}, "axis": {"orient": "left", "values": [-4, -3, -2], "tickSize": -9, "labelPadding": 47, "labelExpr": "'10' + (datum.value == -2 ? '⁻²' : datum.value == -3 ? '⁻³' : '⁻⁴')", "title": "Sᵥ/λ (Jy/μm)", "titleFontSize": 28, "titleX": -107, "titleY": 255, "titleAngle": -90, "titleAlign": "center", "titleBaseline": "middle"}},
     "y2": {"field": "lo"}}},
   {"data": {"name": "orange_band"}, "mark": {"type": "area", "color": "#FFA500", "opacity": 0.3, "clip": true},
    "encoding": {
     "x": {"field": "log_lam", "type": "quantitative", "scale": {"domain": [-0.2128, 2.8738], "nice": false, "zero": false}, "axis": {"orient": "bottom", "values": [-0.155, -0.097, -0.046, 0.301, 0.477, 0.602, 0.699, 0.778, 0.845, 0.903, 0.954, 1.301, 1.477, 1.602, 1.699, 1.778, 1.845, 1.903, 1.954, 2.301, 2.477, 2.602, 2.699, 2.778, 2.845], "labels": false, "tickSize": -5, "title": null}},
     "y": {"field": "log_flux", "type": "quantitative", "scale": {"domain": [-4.418, -1.149], "nice": false, "zero": false}, "axis": {"orient": "left", "values": [-4.398, -4.301, -4.222, -4.155, -4.097, -4.046, -3.699, -3.523, -3.398, -3.301, -3.222, -3.155, -3.097, -3.046, -2.699, -2.523, -2.398, -2.301, -2.222, -2.155, -2.097, -2.046, -1.699, -1.523, -1.398, -1.301, -1.222, -1.155], "labels": false, "tickSize": -5, "title": null}},
     "y2": {"datum": -5}}},
   {"data": {"name": "red_band"}, "mark": {"type": "area", "color": "#FF3020", "opacity": 0.3, "clip": true},
    "encoding": {
     "x": {"field": "log_lam", "type": "quantitative", "scale": {"domain": [-0.2128, 2.8738], "nice": false, "zero": false}, "axis": {"orient": "top", "values": [0, 1, 2], "labels": false, "tickSize": -9, "title": null}},
     "y": {"field": "log_flux", "type": "quantitative", "scale": {"domain": [-4.418, -1.149], "nice": false, "zero": false}, "axis": {"orient": "right", "values": [-4, -3, -2], "labels": false, "tickSize": -9, "title": null}},
     "y2": {"field": "lo"},
     "detail": {"field": "seg"}}},
   {"data": {"name": "magenta_band"}, "mark": {"type": "area", "color": "#FF00FF", "opacity": 0.3, "clip": true},
    "encoding": {
     "x": {"field": "log_lam", "type": "quantitative", "scale": {"domain": [-0.2128, 2.8738], "nice": false, "zero": false}, "axis": {"orient": "top", "values": [-0.155, -0.097, -0.046, 0.301, 0.477, 0.602, 0.699, 0.778, 0.845, 0.903, 0.954, 1.301, 1.477, 1.602, 1.699, 1.778, 1.845, 1.903, 1.954, 2.301, 2.477, 2.602, 2.699, 2.778, 2.845], "labels": false, "tickSize": -5, "title": null}},
     "y": {"field": "log_flux", "type": "quantitative", "scale": {"domain": [-4.418, -1.149], "nice": false, "zero": false}, "axis": {"orient": "right", "values": [-4.398, -4.301, -4.222, -4.155, -4.097, -4.046, -3.699, -3.523, -3.398, -3.301, -3.222, -3.155, -3.097, -3.046, -2.699, -2.523, -2.398, -2.301, -2.222, -2.155, -2.097, -2.046, -1.699, -1.523, -1.398, -1.301, -1.222, -1.155], "labels": false, "tickSize": -5, "title": null}},
     "y2": {"datum": -5}}},
   {"data": {"name": "pah_band"}, "mark": {"type": "area", "color": "#0000FF", "opacity": 0.25, "clip": true},
    "encoding": {"y2": {"datum": -5}}},
   {"data": {"name": "cold_band"}, "mark": {"type": "area", "color": "#0000FF", "opacity": 0.3, "clip": true},
    "encoding": {"y2": {"field": "lo"}}},
   {"data": {"name": "green_line"}, "mark": {"type": "line", "color": "#008000", "strokeWidth": 2.5, "clip": true}},
   {"data": {"name": "magenta_line"}, "mark": {"type": "line", "color": "#FF00FF", "strokeWidth": 2.5, "clip": true}},
   {"data": {"name": "orange_line"}, "mark": {"type": "line", "color": "#FFA500", "strokeWidth": 2.5, "clip": true}, "encoding": {"detail": {"field": "seg"}}},
   {"data": {"name": "spectrum"}, "mark": {"type": "line", "color": "black", "strokeWidth": 2, "clip": true}, "encoding": {"detail": {"field": "seg"}}},
   {"data": {"name": "red_line"}, "mark": {"type": "line", "color": "#FF0000", "strokeWidth": 2.5, "clip": true}, "encoding": {"detail": {"field": "seg"}}},
   {"data": {"name": "blue_line"}, "mark": {"type": "line", "color": "#0000FF", "strokeWidth": 2.5, "clip": true}, "encoding": {"detail": {"field": "seg"}}},
   {"data": {"name": "phot"}, "mark": {"type": "point", "shape": "triangle-down", "filled": true, "fill": "white", "stroke": "black", "strokeWidth": 1.5, "size": 260, "opacity": 1, "clip": true}},
   {"data": {"name": "phot"}, "mark": {"type": "rule", "color": "black", "strokeWidth": 2, "clip": true},
    "encoding": {"y": {"field": "flux_lo", "type": "quantitative", "axis": null}, "y2": {"field": "flux_hi"}}},
   {"data": {"name": "phot"}, "mark": {"type": "tick", "orient": "horizontal", "color": "black", "size": 13, "thickness": 2, "clip": true},
    "encoding": {"y": {"field": "flux_lo", "type": "quantitative", "axis": null}}},
   {"data": {"name": "phot"}, "mark": {"type": "tick", "orient": "horizontal", "color": "black", "size": 13, "thickness": 2, "clip": true},
    "encoding": {"y": {"field": "flux_hi", "type": "quantitative", "axis": null}}}
  ],
  "resolve": {"axis": {"x": "independent", "y": "independent"}}
 },
 {
  "width": 1088, "height": 358,
  "layer": [
   {"data": {"name": "levels"}, "mark": {"type": "rule", "color": "black", "strokeDash": [2, 5], "strokeWidth": 2},
    "encoding": {"y": {"field": "res", "type": "quantitative", "scale": {"domain": [-100, 100], "nice": false, "zero": false}, "axis": null}}},
   {"data": {"name": "residual"}, "mark": {"type": "line", "color": "black", "strokeWidth": 2, "clip": true},
    "encoding": {
     "x": {"field": "log_lam", "type": "quantitative", "scale": {"domain": [-0.2128, 2.8738], "nice": false, "zero": false}, "axis": {"orient": "bottom", "values": [0, 1, 2], "tickSize": -9, "labelPadding": 19, "labelExpr": "'10' + (datum.value == 0 ? '⁰' : datum.value == 1 ? '¹' : '²')", "title": "λ(μm)", "titleFontStyle": "italic", "titleX": 530, "titleY": 70, "titleAlign": "center", "titleBaseline": "middle"}},
     "y": {"field": "res", "type": "quantitative", "scale": {"domain": [-100, 100], "nice": false, "zero": false}, "axis": {"orient": "left", "values": [-100, -50, 0, 50, 100], "tickSize": -9, "labelPadding": 17, "title": "Residual (%)", "titleX": -112, "titleY": 179, "titleAngle": -90, "titleAlign": "center", "titleBaseline": "middle"}}}},
   {"data": {"name": "phot"}, "mark": {"type": "point", "shape": "triangle-down", "filled": true, "fill": "white", "stroke": "black", "strokeWidth": 1.5, "size": 260, "opacity": 1, "clip": true},
    "encoding": {
     "x": {"field": "log_lam", "type": "quantitative", "scale": {"domain": [-0.2128, 2.8738], "nice": false, "zero": false}, "axis": {"orient": "bottom", "values": [-0.155, -0.097, -0.046, 0.301, 0.477, 0.602, 0.699, 0.778, 0.845, 0.903, 0.954, 1.301, 1.477, 1.602, 1.699, 1.778, 1.845, 1.903, 1.954, 2.301, 2.477, 2.602, 2.699, 2.778, 2.845], "labels": false, "tickSize": -5, "title": null}},
     "y": {"field": "res", "type": "quantitative", "scale": {"domain": [-100, 100], "nice": false, "zero": false}, "axis": {"orient": "right", "values": [-100, -50, 0, 50, 100], "labels": false, "tickSize": -9, "title": null}}}},
   {"data": {"name": "phot"}, "mark": {"type": "rule", "color": "black", "strokeWidth": 2, "clip": true},
    "encoding": {
     "x": {"field": "log_lam", "type": "quantitative", "scale": {"domain": [-0.2128, 2.8738], "nice": false, "zero": false}, "axis": {"orient": "top", "values": [0, 1, 2], "labels": false, "tickSize": -9, "title": null}},
     "y": {"field": "res_lo", "type": "quantitative", "axis": null}, "y2": {"field": "res_hi"}}},
   {"data": {"name": "phot"}, "mark": {"type": "tick", "orient": "horizontal", "color": "black", "size": 13, "thickness": 2, "clip": true},
    "encoding": {
     "x": {"field": "log_lam", "type": "quantitative", "scale": {"domain": [-0.2128, 2.8738], "nice": false, "zero": false}, "axis": {"orient": "top", "values": [-0.155, -0.097, -0.046, 0.301, 0.477, 0.602, 0.699, 0.778, 0.845, 0.903, 0.954, 1.301, 1.477, 1.602, 1.699, 1.778, 1.845, 1.903, 1.954, 2.301, 2.477, 2.602, 2.699, 2.778, 2.845], "labels": false, "tickSize": -5, "title": null}},
     "y": {"field": "res_lo", "type": "quantitative", "axis": null}}},
   {"data": {"name": "phot"}, "mark": {"type": "tick", "orient": "horizontal", "color": "black", "size": 13, "thickness": 2, "clip": true},
    "encoding": {
     "x": {"field": "log_lam", "type": "quantitative", "axis": null},
     "y": {"field": "res_hi", "type": "quantitative", "axis": null}}}
  ],
  "resolve": {"axis": {"x": "independent", "y": "independent"}}
 }
]
}
